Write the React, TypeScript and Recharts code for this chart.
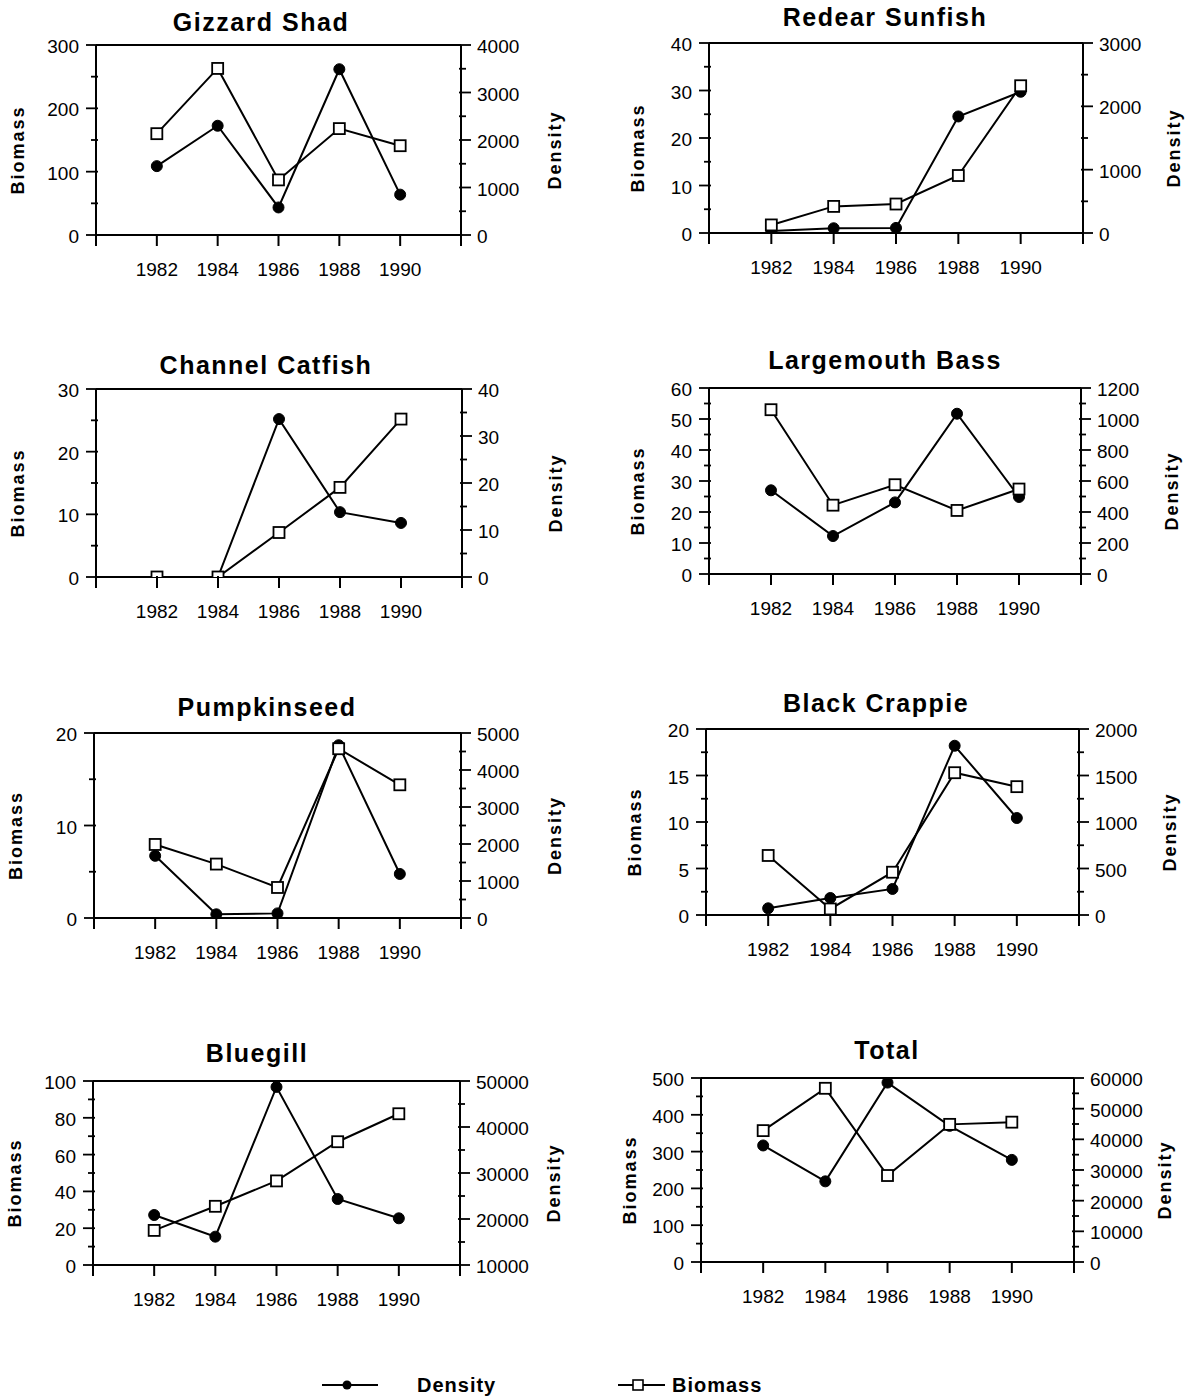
import React from 'react';
import { LineChart, Line, XAxis, YAxis, ReferenceLine } from 'recharts';

// ---------- data ----------
const YEARS = [1982, 1984, 1986, 1988, 1990];
const X_TICKS = [1980, 1982, 1984, 1986, 1988, 1990, 1992];
const X_LABELS = [1982, 1984, 1986, 1988, 1990];

const gizzardBiomass = [160, 263, 87, 168, 141];
const gizzardDensity = [1450, 2300, 580, 3490, 850];
const gizzardLeftTicks = [0, 100, 200, 300];
const gizzardRightTicks = [0, 1000, 2000, 3000, 4000];

const redearBiomass = [1.7, 5.6, 6.1, 12.1, 31.0];
const redearDensity = [30, 75, 80, 1840, 2230];
const redearLeftTicks = [0, 10, 20, 30, 40];
const redearRightTicks = [0, 1000, 2000, 3000];

const catfishBiomass = [0, 0, 7.1, 14.3, 25.2];
const catfishDensity = [0, 0, 33.6, 13.8, 11.5];
const catfishLeftTicks = [0, 10, 20, 30];
const catfishRightTicks = [0, 10, 20, 30, 40];

const bassBiomass = [53, 22.2, 28.8, 20.5, 27.4];
const bassDensity = [540, 245, 462, 1034, 497];
const bassLeftTicks = [0, 10, 20, 30, 40, 50, 60];
const bassRightTicks = [0, 200, 400, 600, 800, 1000, 1200];

const pumpkinseedBiomass = [7.95, 5.83, 3.3, 18.3, 14.4];
const pumpkinseedDensity = [1680, 100, 125, 4670, 1190];
const pumpkinseedLeftTicks = [0, 10, 20];
const pumpkinseedRightTicks = [0, 1000, 2000, 3000, 4000, 5000];

const crappieBiomass = [6.4, 0.65, 4.6, 15.3, 13.8];
const crappieDensity = [72, 183, 280, 1820, 1043];
const crappieLeftTicks = [0, 5, 10, 15, 20];
const crappieRightTicks = [0, 500, 1000, 1500, 2000];

const bluegillBiomass = [18.8, 31.9, 45.7, 67, 82.2];
const bluegillDensity = [20870, 16160, 48700, 24350, 20150];
const bluegillLeftTicks = [0, 20, 40, 60, 80, 100];
const bluegillRightTicks = [10000, 20000, 30000, 40000, 50000];

const totalBiomass = [357, 472, 235, 374, 380];
const totalDensity = [38000, 26300, 58500, 44400, 33300];
const totalLeftTicks = [0, 100, 200, 300, 400, 500];
const totalRightTicks = [0, 10000, 20000, 30000, 40000, 50000, 60000];

// ---------- layout ----------
const FONT = '"Liberation Sans", Arial, Helvetica, sans-serif';

type Panel = {
  title: string;
  biomass: number[];
  density: number[];
  leftTicks: number[];
  rightTicks: number[];
  x0: number;
  W: number;
  L: number;
  R: number;
  T: number;
  B: number;
  titleX: number;
  titleY: number;
  col: 0 | 1;
};

const panels: Panel[] = [
  { title: 'Gizzard Shad', biomass: gizzardBiomass, density: gizzardDensity, leftTicks: gizzardLeftTicks, rightTicks: gizzardRightTicks, x0: 0, W: 600, L: 96, R: 461, T: 45, B: 235, titleX: 261, titleY: 22, col: 0 },
  { title: 'Redear Sunfish', biomass: redearBiomass, density: redearDensity, leftTicks: redearLeftTicks, rightTicks: redearRightTicks, x0: 600, W: 590, L: 709, R: 1083, T: 43, B: 233, titleX: 885, titleY: 17, col: 1 },
  { title: 'Channel Catfish', biomass: catfishBiomass, density: catfishDensity, leftTicks: catfishLeftTicks, rightTicks: catfishRightTicks, x0: 0, W: 600, L: 96, R: 462, T: 389, B: 577, titleX: 266, titleY: 365, col: 0 },
  { title: 'Largemouth Bass', biomass: bassBiomass, density: bassDensity, leftTicks: bassLeftTicks, rightTicks: bassRightTicks, x0: 600, W: 590, L: 709, R: 1081, T: 388, B: 574, titleX: 885, titleY: 360, col: 1 },
  { title: 'Pumpkinseed', biomass: pumpkinseedBiomass, density: pumpkinseedDensity, leftTicks: pumpkinseedLeftTicks, rightTicks: pumpkinseedRightTicks, x0: 0, W: 600, L: 94, R: 461, T: 733, B: 918, titleX: 267, titleY: 707, col: 0 },
  { title: 'Black Crappie', biomass: crappieBiomass, density: crappieDensity, leftTicks: crappieLeftTicks, rightTicks: crappieRightTicks, x0: 600, W: 590, L: 706, R: 1079, T: 729, B: 915, titleX: 876, titleY: 703, col: 1 },
  { title: 'Bluegill', biomass: bluegillBiomass, density: bluegillDensity, leftTicks: bluegillLeftTicks, rightTicks: bluegillRightTicks, x0: 0, W: 600, L: 93, R: 460, T: 1081, B: 1265, titleX: 257, titleY: 1053, col: 0 },
  { title: 'Total', biomass: totalBiomass, density: totalDensity, leftTicks: totalLeftTicks, rightTicks: totalRightTicks, x0: 600, W: 590, L: 701, R: 1074, T: 1078, B: 1262, titleX: 887, titleY: 1050, col: 1 },
];

function withMinors(majors: number[]): number[] {
  const out: number[] = [];
  for (let i = 0; i < majors.length; i++) {
    out.push(majors[i]);
    if (i < majors.length - 1) out.push((majors[i] + majors[i + 1]) / 2);
  }
  return out;
}

const XTick = (props: any) => {
  const { x, y, payload } = props;
  const v = payload.value;
  const show = X_LABELS.includes(v);
  return (
    <g>
      <line x1={x} y1={y - 1} x2={x} y2={y + 11} stroke="#000" strokeWidth={2} />
      {show && (
        <text x={x} y={y + 41} textAnchor="middle" fontSize={19} fontFamily={FONT} fill="#000">
          {v}
        </text>
      )}
    </g>
  );
};

const makeYTick = (side: 'left' | 'right', majors: number[]) => (props: any) => {
  const { x, y, payload } = props;
  const v = payload.value;
  const major = majors.includes(v);
  if (side === 'left') {
    return (
      <g>
        <line x1={major ? x - 10 : x - 5} y1={y} x2={x + 2} y2={y} stroke="#000" strokeWidth={1.8} />
        {major && (
          <text x={x - 17} y={y + 8} textAnchor="end" fontSize={19} fontFamily={FONT} fill="#000">
            {v}
          </text>
        )}
      </g>
    );
  }
  return (
    <g>
      <line x1={x - 2} y1={y} x2={major ? x + 10 : x + 5} y2={y} stroke="#000" strokeWidth={1.8} />
      {major && (
        <text x={x + 16} y={y + 8} textAnchor="start" fontSize={19} fontFamily={FONT} fill="#000">
          {v}
        </text>
      )}
    </g>
  );
};

const SquareDot = (props: any) => {
  const { cx, cy, index } = props;
  if (cx == null || cy == null) return <g key={index} />;
  return <rect key={index} x={cx - 5.5} y={cy - 5.5} width={11} height={11} fill="#fff" stroke="#000" strokeWidth={1.8} />;
};

const CircleDot = (props: any) => {
  const { cx, cy, index } = props;
  if (cx == null || cy == null) return <g key={index} />;
  return <circle key={index} cx={cx} cy={cy} r={5.5} fill="#000" stroke="#000" strokeWidth={1} />;
};

const PanelChart = ({ p }: { p: Panel }) => {
  const top = p.T - 15;
  const xAxisH = 55;
  const height = p.B - p.T + 15 + xAxisH;
  const lw = p.L - p.x0;
  const rw = p.x0 + p.W - p.R;
  const data = YEARS.map((yr, i) => ({ year: yr, biomass: p.biomass[i], density: p.density[i] }));
  const lMin = p.leftTicks[0];
  const lMax = p.leftTicks[p.leftTicks.length - 1];
  const rMin = p.rightTicks[0];
  const rMax = p.rightTicks[p.rightTicks.length - 1];
  return (
    <div style={{ position: 'absolute', left: p.x0, top, width: p.W, height }}>
      <LineChart width={p.W} height={height} data={data} margin={{ top: 15, right: 0, bottom: 0, left: 0 }}>
        <XAxis
          dataKey="year"
          type="number"
          domain={[1980, 1992]}
          ticks={X_TICKS}
          interval={0}
          tick={<XTick />}
          tickLine={false}
          tickSize={0}
          tickMargin={0}
          height={xAxisH}
          axisLine={{ stroke: '#000', strokeWidth: 2 }}
          allowDataOverflow
        />
        <YAxis
          yAxisId="b"
          orientation="left"
          type="number"
          width={lw}
          domain={[lMin, lMax]}
          ticks={withMinors(p.leftTicks)}
          interval={0}
          tick={makeYTick('left', p.leftTicks)}
          tickLine={false}
          tickSize={0}
          tickMargin={0}
          axisLine={{ stroke: '#000', strokeWidth: 2 }}
          allowDataOverflow
        />
        <YAxis
          yAxisId="d"
          orientation="right"
          type="number"
          width={rw}
          domain={[rMin, rMax]}
          ticks={withMinors(p.rightTicks)}
          interval={0}
          tick={makeYTick('right', p.rightTicks)}
          tickLine={false}
          tickSize={0}
          tickMargin={0}
          axisLine={{ stroke: '#000', strokeWidth: 2 }}
          allowDataOverflow
        />
        <ReferenceLine yAxisId="b" y={lMax} stroke="#000" strokeWidth={2} />
        <Line
          yAxisId="d"
          dataKey="density"
          stroke="#000"
          strokeWidth={2}
          dot={CircleDot}
          activeDot={false}
          isAnimationActive={false}
        />
        <Line
          yAxisId="b"
          dataKey="biomass"
          stroke="#000"
          strokeWidth={2}
          dot={SquareDot}
          activeDot={false}
          isAnimationActive={false}
        />
      </LineChart>
    </div>
  );
};

export default function App() {
  return (
    <div style={{ position: 'absolute', left: 0, top: 0, width: 1190, height: 1398, background: '#fff', overflow: 'hidden' }}>
      {panels.map((p) => (
        <PanelChart key={p.title} p={p} />
      ))}
      <svg width={1190} height={1398} style={{ position: 'absolute', left: 0, top: 0, pointerEvents: 'none' }}>
        {panels.map((p) => {
          const mid = (p.T + p.B) / 2 + 10;
          const bx = p.col === 0 ? p.L - 78 : p.L - 71;
          const dx = p.col === 0 ? p.R + 94 : p.R + 91;
          return (
            <g key={p.title}>
              <text x={p.titleX} y={p.titleY + 9} textAnchor="middle" fontSize={25} fontWeight="bold" letterSpacing={1.5} fontFamily={FONT} fill="#000">
                {p.title}
              </text>
              <text transform={`translate(${bx + 6},${mid}) rotate(-90)`} textAnchor="middle" fontSize={18} fontWeight="bold" letterSpacing={2} fontFamily={FONT} fill="#000">
                Biomass
              </text>
              <text transform={`translate(${dx + 6},${mid}) rotate(-90)`} textAnchor="middle" fontSize={18} fontWeight="bold" letterSpacing={2} fontFamily={FONT} fill="#000">
                Density
              </text>
            </g>
          );
        })}
        <g>
          <line x1={322} y1={1385} x2={378} y2={1385} stroke="#000" strokeWidth={1.8} />
          <circle cx={347} cy={1385} r={4.5} fill="#000" />
          <text x={417} y={1392} fontSize={20} fontWeight="bold" letterSpacing={1} fontFamily={FONT} fill="#000">
            Density
          </text>
          <line x1={618} y1={1385} x2={665} y2={1385} stroke="#000" strokeWidth={1.8} />
          <rect x={633} y={1380} width={10} height={10} fill="#fff" stroke="#000" strokeWidth={1.6} />
          <text x={672} y={1392} fontSize={20} fontWeight="bold" letterSpacing={1} fontFamily={FONT} fill="#000">
            Biomass
          </text>
        </g>
      </svg>
    </div>
  );
}
